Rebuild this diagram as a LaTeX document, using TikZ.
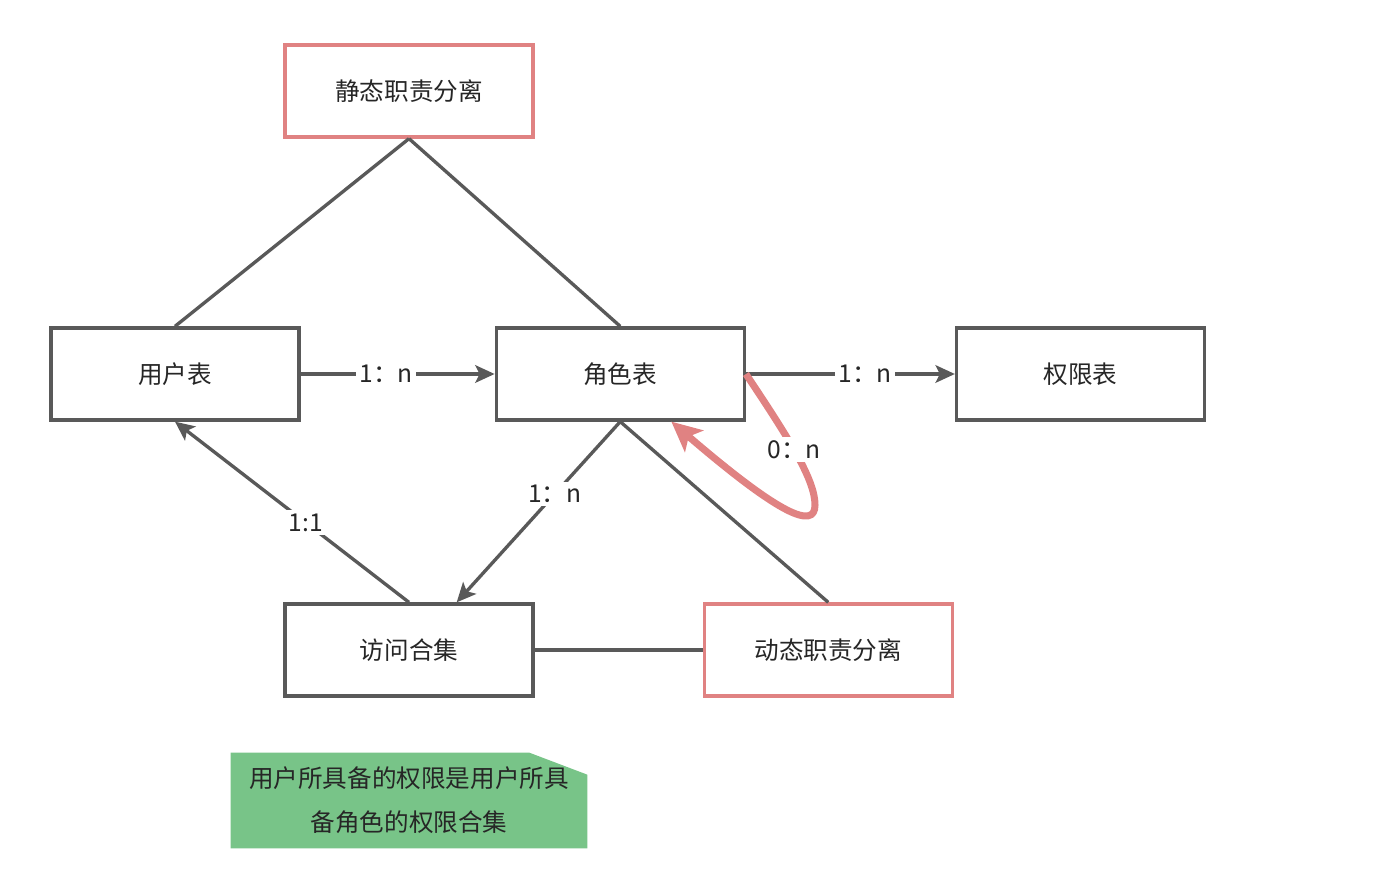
\documentclass[tikz,border=0pt]{standalone}
\usepackage{fontspec}
\setmainfont{Noto Sans CJK SC}
\usetikzlibrary{positioning,arrows.meta,calc,backgrounds}
\definecolor{cinza}{RGB}{89,89,89}
\definecolor{rosa}{RGB}{224,130,130}
\definecolor{verde}{RGB}{120,196,136}

\begin{document}
\begin{tikzpicture}[
      x=0.02cm, y=-0.02cm,
      font=\fontsize{14}{17}\selectfont,
      tabela/.style={draw=cinza, line width=1.9pt, minimum width=4.96cm,
                     minimum height=1.84cm, inner sep=0pt, text=black!85},
      regra/.style={tabela, draw=rosa},
      liga/.style={draw=cinza, line width=1.9pt},
      seta/.style={liga, -{Stealth[length=11pt, width=10pt, inset=2.5pt]}},
      rot/.style={fill=white, inner sep=2pt, text=black!85},
      laco/.style={draw=rosa, line width=4pt,
                   -{Stealth[length=17pt, width=16pt, inset=4pt]}},
      nota/.style={align=center, minimum width=7.12cm, minimum height=1.9cm,
                   inner sep=0pt, text=black!85, font=\fontsize{14}{25}\selectfont}
    ]
    \useasboundingbox (0,0) rectangle (1387,881);

    \node[tabela] (usr) at (175,374) {用户表};
    \node[tabela, right=3.88cm of usr] (pap) {角色表};
    \node[tabela, right=4.18cm of pap] (perm) {权限表};
    \node[regra] (est) at (409,91) {静态职责分离};
    \node[tabela] (ace) at (409,650) {访问合集};
    \node[regra, right=3.36cm of ace] (din) {动态职责分离};

    \node[nota] (obs) at (409,800.5) {用户所具备的权限是用户所具\\备角色的权限合集};
    \begin{scope}[on background layer]
      \fill[verde] (obs.south west) -- (obs.north west) -- ($(obs.north east)+(-58,0)$)
        -- ($(obs.north east)+(0,22)$) -- (obs.south east) -- cycle;
    \end{scope}

    \foreach \x/\y in {est/usr, est/pap} {\draw[liga] (\x.south) -- (\y.north);}
    \draw[liga] (pap.south) -- (din.north);
    \draw[liga] (ace.east) -- (din.west);

    \draw[seta] (usr.east) -- node[rot, pos=0.44] (r1) {1：n} (pap.west);
    \draw[seta] (pap.east) -- node[rot, pos=0.57] (r2) {1：n} (perm.west);
    \draw[seta] (pap.south) -- node[rot, pos=0.4] (r3) {1：n} (ace.45);
    \draw[seta] (ace.north) -- node[rot, pos=0.44] (r4) {1:1} (usr.south);

    \draw[laco] (pap.east) .. controls (790,440) and (815,480) .. (815,505)
      node[rot, pos=0.46] (r5) {0：n}
      .. controls (815,530) and (780,515) .. (pap.-43);
  \end{tikzpicture}
\end{document}
